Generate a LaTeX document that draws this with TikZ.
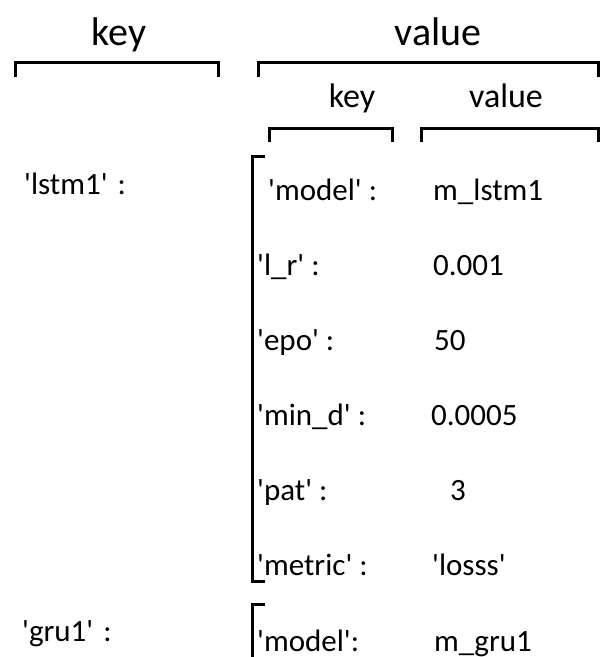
\documentclass[tikz,border=0pt]{standalone}
\usepackage{fontspec}
% a family without TeX ligatures keeps the straight quotes
\newfontfamily\calib{Carlito}
\begin{document}
\begin{tikzpicture}[x=1pt,y=-1pt,
  brk/.style={line width=3pt, line cap=butt, line join=miter},
  toplbl/.style={font=\calib\fontsize{40}{40}\selectfont, anchor=base, inner sep=0pt},
  sublbl/.style={font=\calib\fontsize{34}{34}\selectfont, anchor=base, inner sep=0pt},
  entry/.style={font=\calib\fontsize{31}{31}\selectfont, anchor=base west, inner sep=0pt}]
\useasboundingbox (0,0) rectangle (601,657);
\clip (0,0) rectangle (601,657);

% column headers of the outer dictionary
\node[toplbl] (hkey) at (119,45) {key};
\node[toplbl] (hval) at (438,45) {value};
\draw[brk] (15,77) -- (15,62) -- (218,62) -- (218,77);
\draw[brk] (258,77) -- (258,62) -- (598,62) -- (598,77);

% column headers of the inner dictionary
\node[sublbl] (skey) at (352,107) {key};
\node[sublbl] (sval) at (506,107) {value};
\draw[brk] (269,142) -- (269,128) -- (392,128) -- (392,142);
\draw[brk] (421,142) -- (421,128) -- (598,128) -- (598,142);

% first entry
\node[entry] (k1) at (24,194) {'lstm1'\hspace{10pt}:};
\draw[brk] (265,156) -- (252,156) -- (252,581) -- (265,581);
\node[entry] (m1k) at (268,200) {'model' :};
\node[entry] (m1v) at (433,200) {m\_lstm1};
\node[entry] (lrk) at (257,275) {'l\_r' :};
\node[entry] (lrv) at (433,275) {0.001};
\node[entry] (epk) at (257,350) {'epo' :};
\node[entry] (epv) at (434,350) {50};
\node[entry] (mdk) at (257,425) {'min\_d' :};
\node[entry] (mdv) at (431,425) {0.0005};
\node[entry] (ptk) at (257,500) {'pat' :};
\node[entry] (ptv) at (450,500) {3};
\node[entry] (mtk) at (257,575) {'metric' :};
\node[entry] (mtv) at (432,575) {'losss'};

% second entry
\node[entry] (k2) at (22,641) {'gru1'\hspace{10pt}:};
\draw[brk] (265,604) -- (252,604) -- (252,660);
\node[entry] (m2k) at (257,651) {'model':};
\node[entry] (m2v) at (434,651) {m\_gru1};
\end{tikzpicture}
\end{document}
